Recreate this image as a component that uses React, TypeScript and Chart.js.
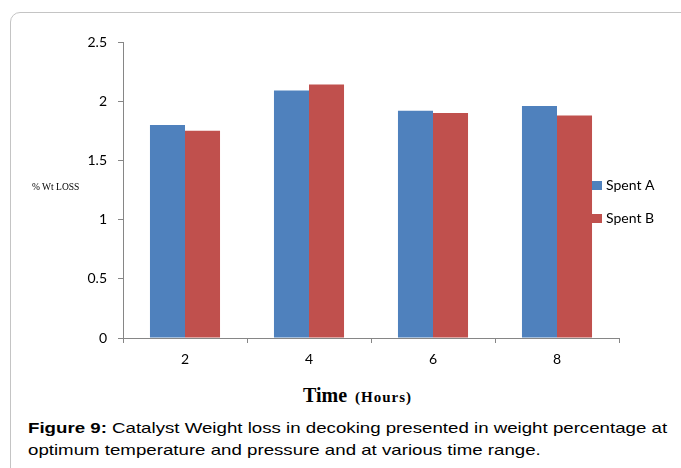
import React, { useEffect, useRef } from "react";
import { Chart, registerables } from "chart.js";

Chart.register(...registerables);

const categories = ["2", "4", "6", "8"];
const spentA = [1.8, 2.09, 1.92, 1.96];
const spentB = [1.75, 2.14, 1.9, 1.88];
const seriesNames = ["Spent A", "Spent B"];
const seriesColors = ["#4F81BD", "#C0504D"];
const yTicks = [0, 0.5, 1, 1.5, 2, 2.5];

const legendPlugin = {
  id: "customLegend",
  afterDraw(chart: any) {
    const { ctx, chartArea } = chart;
    ctx.save();
    chart.data.datasets.forEach((ds: any, i: number) => {
      const x = chartArea.right - 27;
      const y = 181 + 33 * i;
      ctx.fillStyle = ds.backgroundColor;
      ctx.fillRect(x, y, 10, 9);
      ctx.fillStyle = "#000";
      ctx.font = "14px Lato";
      ctx.textBaseline = "middle";
      ctx.textAlign = "left";
      ctx.fillText(ds.label, x + 14, y + 4.5);
    });
    ctx.restore();
  },
};

export default function App() {
  const ref = useRef<HTMLCanvasElement>(null);
  useEffect(() => {
    if (!ref.current) return;
    const chart = new Chart(ref.current, {
      type: "bar",
      data: {
        labels: categories,
        datasets: [
          { label: seriesNames[0], data: spentA, backgroundColor: seriesColors[0] },
          { label: seriesNames[1], data: spentB, backgroundColor: seriesColors[1] },
        ],
      },
      options: {
        responsive: false,
        animation: false,
        layout: { padding: { top: 42, right: 62, bottom: 0, left: 0 } },
        datasets: {
          bar: { barPercentage: 1, categoryPercentage: 0.565 },
        },
        plugins: {
          legend: { display: false },
          tooltip: { enabled: false },
        },
        scales: {
          x: {
            grid: {
              display: true,
              drawOnChartArea: false,
              drawTicks: true,
              tickLength: 5,
              color: "#868686",
              offset: true,
            },
            border: { color: "#868686", width: 1 },
            ticks: { color: "#000", font: { family: "Lato", size: 14 }, padding: 8 },
            afterFit: (s: any) => {
              s.height = 42;
            },
          },
          y: {
            min: 0,
            max: 2.5,
            afterBuildTicks: (s: any) => {
              s.ticks = yTicks.map((v) => ({ value: v }));
            },
            grid: {
              display: true,
              drawOnChartArea: false,
              drawTicks: true,
              tickLength: 5,
              color: "#868686",
            },
            border: { color: "#868686", width: 1 },
            ticks: {
              color: "#000",
              font: { family: "Lato", size: 14 },
              padding: 11,
              callback: (v: any) => String(v),
            },
            afterFit: (s: any) => {
              s.width = 123;
            },
          },
        },
      },
      plugins: [legendPlugin],
    });
    return () => chart.destroy();
  }, []);

  return (
    <div
      style={{
        position: "fixed",
        left: 0,
        top: 0,
        width: 681,
        height: 468,
        overflow: "hidden",
        background: "#fff",
      }}
    >
      <div
        style={{
          position: "absolute",
          left: 10,
          top: 12,
          width: 800,
          height: 600,
          border: "1.5px solid #c4c4c4",
          borderTopLeftRadius: 10,
          boxSizing: "border-box",
        }}
      />
      <canvas
        ref={ref}
        width={681}
        height={380}
        style={{ position: "absolute", left: 0, top: 0, width: 681, height: 380 }}
      />
      <div
        style={{
          position: "absolute",
          left: 32,
          top: 181,
          fontFamily: "'Liberation Serif', serif",
          fontSize: 9.5,
          color: "#000",
          whiteSpace: "nowrap",
          lineHeight: "12px",
        }}
      >
        % Wt LOSS
      </div>
      <div
        style={{
          position: "absolute",
          left: 303,
          top: 383,
          fontFamily: "'Liberation Serif', serif",
          fontWeight: "bold",
          color: "#000",
          whiteSpace: "nowrap",
          lineHeight: "24px",
        }}
      >
        <span style={{ fontSize: 20 }}>Time</span>
        <span style={{ fontSize: 15, letterSpacing: 1, marginLeft: 8 }}>(Hours)</span>
      </div>
      <div
        style={{
          position: "absolute",
          left: 28,
          top: 417,
          fontFamily: "'Liberation Sans', Arial, sans-serif",
          fontSize: 15,
          lineHeight: "22px",
          color: "#000",
          whiteSpace: "nowrap",
          transform: "scaleX(1.245)",
          transformOrigin: "left top",
        }}
      >
        <b>Figure 9:</b> Catalyst Weight loss in decoking presented in weight percentage at
        <br />
        optimum temperature and pressure and at various time range.
      </div>
    </div>
  );
}
